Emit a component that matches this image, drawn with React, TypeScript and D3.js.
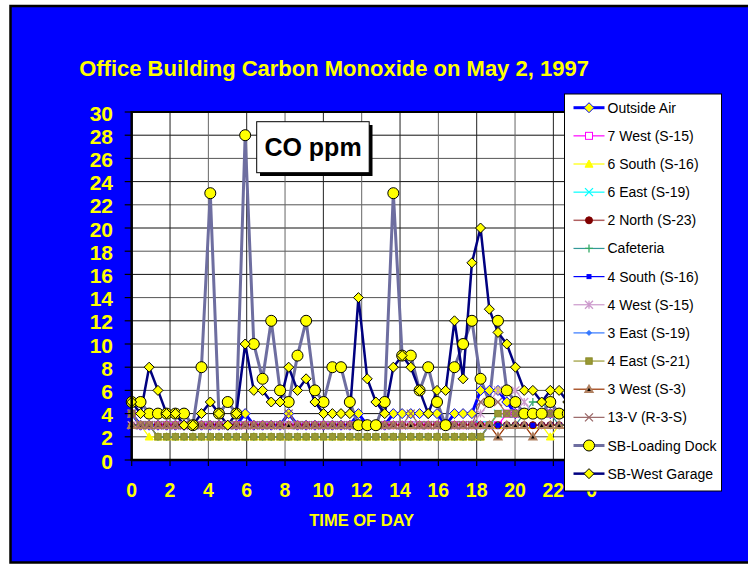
import React from 'react';
import * as d3 from 'd3';

// ---------- data ----------
const times = [0,0.46,0.91,1.37,1.82,2.28,2.73,3.19,3.64,4.1,
  4.55,5.01,5.46,5.92,6.37,6.83,7.28,7.74,8.19,8.65,
  9.1,9.56,10.01,10.47,10.92,11.38,11.83,12.29,12.74,13.2,
  13.65,14.11,14.56,15.02,15.47,15.93,16.38,16.84,17.29,17.75,
  18.2,18.66,19.11,19.57,20.02,20.48,20.93,21.39,21.84,22.3,
  22.75,23.21,23.66];

const outsideAir = [4,3,3,3,3,3,3,3,3,3, 3,3,3,4,3,3,3,3,4,3, 3,3,3,3,3,3,4,3,3,3, 4,4,4,4,4,4,3,4,4,4, 6,6,6,5,4,4,4,4,4,4, 4,4,4];
const sevenWest = [4,3,3,3,3,3,3,3,3,3, 3,3,3,3,3,3,3,3,3,3, 3,3,3,3,3,3,3,3,3,3, 3,3,3,3,3,3,3,3,3,3, 3,3,3,4,4,4,4,4,4,4, 4,4,4];
const sixSouth = [3,3,2,2,2,2,2,2,2,2, 2,2,2,2,2,2,2,2,2,2, 2,2,2,2,2,2,2,2,2,2, 2,2,2,2,2,2,2,2,2,2, 2,3,3,3,3,3,3,3,2,3, 3,3,3];
const sixEast = [4,3,3,3,3,3,3,3,3,3, 3,3,3,3,3,3,3,3,3,3, 3,3,3,3,3,3,3,3,3,3, 3,3,3,3,3,3,3,3,3,3, 3,3,4,4,4,4,4,4,4,4, 4,4,4];
const twoNorth = [3,3,3,3,3,3,3,3,3,3, 3,3,3,3,3,3,3,3,3,3, 3,3,3,3,3,3,3,3,3,3, 3,3,3,3,3,3,3,3,3,3, 3,3,3,3,3,3,3,3,3,3, 3,3,3];
const cafeteria = [3,3,3,2,2,2,2,2,2,2, 2,2,2,2,2,2,2,2,2,2, 2,2,2,2,2,2,2,2,2,2, 2,2,2,2,2,2,2,2,2,2, 2,3,3,3,3,4,5,5,4,3, 3,3,3];
const fourSouth = [3,3,3,2,2,2,2,2,2,2, 2,2,2,2,2,2,2,2,2,2, 2,2,2,2,2,2,2,2,2,2, 2,2,2,2,2,2,2,2,2,2, 2,3,3,3,3,3,3,3,3,3, 3,3,3];
const fourWest = [3,3,3,3,3,3,3,3,3,3, 3,3,3,3,3,3,3,3,3,3, 3,3,3,3,3,3,3,3,3,3, 3,3,3,3,3,3,3,3,3,3, 4,5,6,6,6,5,4,4,4,4, 4,4,4];
const threeEast = [4,3,3,2,2,2,2,2,2,2, 2,2,2,2,2,2,2,2,2,2, 2,2,2,2,2,2,2,2,2,2, 2,2,2,2,2,2,2,2,2,2, 2,3,4,4,4,4,4,4,4,4, 4,4,4];
const fourEast = [4,3,3,2,2,2,2,2,2,2, 2,2,2,2,2,2,2,2,2,2, 2,2,2,2,2,2,2,2,2,2, 2,2,2,2,2,2,2,2,2,2, 2,3,4,4,4,4,4,4,4,4, 4,4,4];
const threeWest = [3,3,3,3,3,3,3,3,3,3, 3,3,3,3,3,3,3,3,3,3, 3,3,3,3,3,3,3,3,3,3, 3,3,3,3,3,3,3,3,3,3, 3,3,2,3,3,3,2,3,3,3, 3,3,3];
const thirteenV = [4,3,3,3,3,3,3,3,3,3, 3,3,3,3,3,3,3,3,4,3, 3,3,3,3,3,3,3,3,3,3, 3,3,4,3,3,3,3,3,3,3, 5,5,5,4,4,4,4,4,4,4, 4,4,4];
const loadingDock = [5,5,4,4,4,4,4,3,8,23, 4,5,4,28,10,7,12,6,5,9, 12,6,5,8,8,5,3,3,3,5, 23,9,9,6,8,5,3,8,10,12, 7,5,12,6,5,4,4,4,5,4, 4,4,4];
const westGarage = [5,4,8,6,4,4,3,3,4,5, 4,3,4,10,6,6,5,5,8,6, 7,5,4,4,4,4,14,7,5,4, 8,9,8,6,4,6,6,12,7,17, 20,13,11,10,8,6,6,5,6,6, 5,5,4];

const xTickValues = [0,2,4,6,8,10,12,14,16,18,20,22,24];
const xTickLabels = ["0","2","4","6","8","10","12","14","16","18","20","22","0"];
const yTickValues = [0,2,4,6,8,10,12,14,16,18,20,22,24,26,28,30];

const seriesNames = ["Outside Air","7 West (S-15)","6 South (S-16)","6 East (S-19)","2 North (S-23)","Cafeteria","4 South (S-16)","4 West (S-15)","3 East (S-19)","4 East (S-21)","3 West (S-3)","13-V (R-3-S)","SB-Loading Dock","SB-West Garage"];
const seriesValues = [outsideAir,sevenWest,sixSouth,sixEast,twoNorth,cafeteria,fourSouth,fourWest,threeEast,fourEast,threeWest,thirteenV,loadingDock,westGarage];

// styles
type Sty = {line:string; lw:number; marker:string; mfill:string; mstroke:string; ms:number; msw?:number};
const styles: Sty[] = [
  {line:'#0000FF', lw:3, marker:'diamond', mfill:'#FFFF00', mstroke:'#0000FF', ms:5},
  {line:'#FF00FF', lw:1.2, marker:'square', mfill:'#FFFFFF', mstroke:'#FF00FF', ms:3.5},
  {line:'#FFFF00', lw:1.2, marker:'triangle', mfill:'#FFFF00', mstroke:'#FFFF00', ms:4},
  {line:'#00FFFF', lw:1.2, marker:'x', mfill:'none', mstroke:'#00FFFF', ms:4},
  {line:'#B06060', lw:1.5, marker:'circle', mfill:'#800000', mstroke:'#800000', ms:3.5},
  {line:'#339999', lw:1.2, marker:'plus', mfill:'none', mstroke:'#33AA66', ms:4},
  {line:'#0000FF', lw:1.2, marker:'smallsquare', mfill:'#0000FF', mstroke:'#0000FF', ms:2},
  {line:'#CC99CC', lw:1.2, marker:'asterisk', mfill:'none', mstroke:'#CC99CC', ms:4},
  {line:'#3377FF', lw:1.2, marker:'smalldiamond', mfill:'#3377FF', mstroke:'#3377FF', ms:2.5},
  {line:'#999933', lw:1.2, marker:'square', mfill:'#999933', mstroke:'#8A8A2A', ms:3.2},
  {line:'#993300', lw:1.2, marker:'triangle', mfill:'#000000', mstroke:'#B08060', ms:3.5, msw:2},
  {line:'#996666', lw:1.2, marker:'x', mfill:'none', mstroke:'#996666', ms:4},
  {line:'#6E6EA0', lw:3, marker:'circle', mfill:'#FFFF00', mstroke:'#000000', ms:5.5},
  {line:'#000080', lw:2.5, marker:'diamond', mfill:'#FFFF00', mstroke:'#000000', ms:5},
];

// ---------- layout ----------
const W = 748, H = 564;
const P = { left: 131.7, right: 591.7, top: 112, bottom: 460 };
const xs = d3.scaleLinear().domain([0, 24]).range([P.left, P.right]);
const ys = d3.scaleLinear().domain([0, 30]).range([P.bottom, P.top]);
const FONT = "'Liberation Sans', Arial, Helvetica, sans-serif";

function Marker({ s, cx, cy }: { s: Sty; cx: number; cy: number }) {
  const r = s.ms;
  const sw = s.msw || 1;
  switch (s.marker) {
    case 'diamond':
    case 'smalldiamond':
      return <path d={`M${cx},${cy - r}L${cx + r},${cy}L${cx},${cy + r}L${cx - r},${cy}Z`} fill={s.mfill} stroke={s.mstroke} strokeWidth={sw} />;
    case 'square':
    case 'smallsquare':
      return <rect x={cx - r} y={cy - r} width={2 * r} height={2 * r} fill={s.mfill} stroke={s.mstroke} strokeWidth={sw} />;
    case 'triangle':
      return <path d={`M${cx},${cy - r}L${cx + r},${cy + r * 0.8}L${cx - r},${cy + r * 0.8}Z`} fill={s.mfill} stroke={s.mstroke} strokeWidth={sw} />;
    case 'circle':
      return <circle cx={cx} cy={cy} r={r} fill={s.mfill} stroke={s.mstroke} strokeWidth={sw} />;
    case 'x':
      return <path d={`M${cx - r},${cy - r}L${cx + r},${cy + r}M${cx - r},${cy + r}L${cx + r},${cy - r}`} stroke={s.mstroke} strokeWidth={1.3} fill="none" />;
    case 'plus':
      return <path d={`M${cx - r},${cy}L${cx + r},${cy}M${cx},${cy - r}L${cx},${cy + r}`} stroke={s.mstroke} strokeWidth={1.3} fill="none" />;
    case 'asterisk':
      return <path d={`M${cx - r},${cy - r}L${cx + r},${cy + r}M${cx - r},${cy + r}L${cx + r},${cy - r}M${cx},${cy - r}L${cx},${cy + r}`} stroke={s.mstroke} strokeWidth={1.3} fill="none" />;
    default:
      return null;
  }
}

export default function App() {
  const line = d3.line<number>().x((_, i) => xs(times[i])).y((d) => ys(d));
  const gridX = xTickValues.filter((v) => v > 0 && v < 24);
  const gridY = yTickValues.filter((v) => v > 0 && v < 30);
  const legX = 564.5, legY = 94, legW = 157, legH = 397;
  const legRow = (i: number) => 107.7 + i * 28.15;

  return (
    <div style={{ position: 'absolute', left: 0, top: 0, width: W, height: H }}>
      <svg width={W} height={H} style={{ display: 'block' }} fontFamily={FONT}>
        <rect x={0} y={0} width={W} height={H} fill="#FFFFFF" />
        <rect x={10.5} y={6} width={W} height={556.5} fill="#0000FF" stroke="#000000" strokeWidth={2.5} />

        <text x={334} y={76} textAnchor="middle" fill="#FFFF00" fontSize={22} fontWeight="bold">
          Office Building Carbon Monoxide on May 2, 1997
        </text>

        {/* plot area */}
        <rect x={P.left} y={P.top} width={P.right - P.left} height={P.bottom - P.top} fill="#FFFFFF" />
        {gridY.map((v) => (
          <line key={'gy' + v} x1={P.left} x2={P.right} y1={ys(v)} y2={ys(v)} stroke={v % 4 === 2 ? '#555555' : '#111111'} strokeWidth={1} />
        ))}
        {gridX.map((v) => (
          <line key={'gx' + v} x1={xs(v)} x2={xs(v)} y1={P.top} y2={P.bottom} stroke={v % 4 === 2 ? '#222222' : '#666666'} strokeWidth={1} />
        ))}
        <line x1={P.left} x2={P.right} y1={P.top} y2={P.top} stroke="#000" strokeWidth={2} />
        <line x1={P.right} x2={P.right} y1={P.top} y2={P.bottom} stroke="#000" strokeWidth={1} />

        {/* series */}
        {seriesValues.map((vals, si) => (
          <path key={'l' + si} d={line(vals) || ''} fill="none" stroke={styles[si].line} strokeWidth={styles[si].lw} strokeLinejoin="round" />
        ))}
        {seriesValues.map((vals, si) => (
          <g key={'m' + si}>
            {vals.map((v, i) => (
              <Marker key={i} s={styles[si]} cx={xs(times[i])} cy={ys(v)} />
            ))}
          </g>
        ))}

        {/* axes */}
        <line x1={P.left} x2={P.left} y1={P.top - 1} y2={P.bottom + 1} stroke="#000" strokeWidth={2.5} />
        <line x1={P.left - 1} x2={P.right} y1={P.bottom} y2={P.bottom} stroke="#000" strokeWidth={2.5} />
        {yTickValues.map((v) => (
          <g key={'yt' + v}>
            <line x1={P.left - 7} x2={P.left} y1={ys(v)} y2={ys(v)} stroke="#000" strokeWidth={1.2} />
            <text x={113} y={ys(v) + 8.5} textAnchor="end" fill="#FFFF00" fontSize={21} fontWeight="bold">{v}</text>
          </g>
        ))}
        {xTickValues.map((v, i) => (
          <g key={'xt' + v}>
            <line x1={xs(v)} x2={xs(v)} y1={P.bottom} y2={P.bottom + 6} stroke="#000" strokeWidth={1.2} />
            <text x={xs(v)} y={497} textAnchor="middle" fill="#FFFF00" fontSize={19.5} fontWeight="bold">{xTickLabels[i]}</text>
          </g>
        ))}
        <text x={(P.left + P.right) / 2} y={526} textAnchor="middle" fill="#FFFF00" fontSize={16.5} fontWeight="bold">TIME OF DAY</text>

        {/* CO ppm box */}
        <rect x={260} y={125} width={112.5} height={51} fill="#000000" />
        <rect x={256.7} y={121.7} width={112.5} height={51} fill="#FFFFFF" stroke="#000000" strokeWidth={1} />
        <text x={313} y={156} textAnchor="middle" fill="#000000" fontSize={25} fontWeight="bold">CO ppm</text>

        {/* legend */}
        <rect x={legX} y={legY} width={legW} height={legH} fill="#FFFFFF" stroke="#000000" strokeWidth={1} />
        {seriesNames.map((name, i) => (
          <g key={'lg' + i}>
            <line x1={573.5} x2={604.5} y1={legRow(i)} y2={legRow(i)} stroke={styles[i].line} strokeWidth={styles[i].lw} />
            <Marker s={styles[i]} cx={589} cy={legRow(i)} />
            <text x={607.5} y={legRow(i)} dy="0.36em" fill="#000000" fontSize={14}>{name}</text>
          </g>
        ))}
      </svg>
    </div>
  );
}
